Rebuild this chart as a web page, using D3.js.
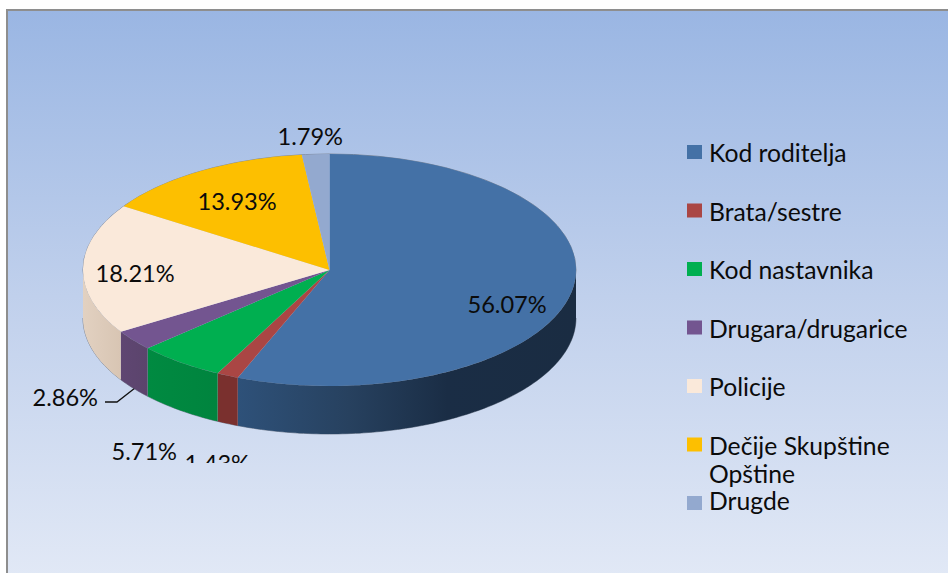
<!DOCTYPE html>
<html><head><meta charset="utf-8">
<script src="https://cdn.jsdelivr.net/npm/d3@7/dist/d3.min.js"></script>
<style>html,body{margin:0;padding:0;background:#fff}svg{display:block}text{font-family:Lato,"Open Sans",sans-serif;fill:#0b0b0b}</style>
</head><body><div id="chart"></div>
<script>
const categories = ["Kod roditelja","Brata/sestre","Kod nastavnika","Drugara/drugarice","Policije","Dečije Skupštine Opštine","Drugde"];
const values = [56.07,1.43,5.71,2.86,18.21,13.93,1.79];
const valueLabels = ["56.07%","1.43%","5.71%","2.86%","18.21%","13.93%","1.79%"];
const topColors = ["#4471a6","#aa4644","#00af50","#735590","#fae9da","#fdbf00","#93a9cf"];
const wallColors = [
  [["0","#2e5179"],["0.33","#27415f"],["0.62","#1a2d45"],["1","#1a2c42"]],
  [["0","#7a302e"],["1","#7a302e"]],
  [["0","#008a41"],["1","#00843e"]],
  [["0","#5f4672"],["1","#5b446c"]],
  [["0","#e2d1c1"],["1","#d8c5b3"]],
  [["0","#bb8e00"],["1","#bb8e00"]],
  [["0","#6d7f9c"],["1","#6d7f9c"]]
];
const legendLines = [["Kod roditelja"],["Brata/sestre"],["Kod nastavnika"],["Drugara/drugarice"],["Policije"],["Dečije Skupštine","Opštine"],["Drugde"]];
const labelSpots = [[467.5,313],[184.5,472],[111.5,460],[32.5,406],[95.5,282],[197.5,210],[277.5,145]];
const W=948,H=573, cx=329.5, cy=270, rx=246.5, ry=116, depth=48;
const FS=23.6, LFS=24.7;
const svg=d3.select("#chart").append("svg").attr("width",W).attr("height",H);
const defs=svg.append("defs");
const bg=defs.append("linearGradient").attr("id","bg").attr("x1",0).attr("y1",0).attr("x2",0).attr("y2",1);
[["0","#9ab6e3"],["0.5","#c0d0ec"],["1","#e2e9f6"]].forEach(s=>bg.append("stop").attr("offset",s[0]).attr("stop-color",s[1]));
svg.append("rect").attr("x",7).attr("y",10).attr("width",W).attr("height",H).attr("fill","url(#bg)").attr("stroke","#8e8e8e").attr("stroke-width",2);
defs.append("clipPath").attr("id","lab").append("rect").attr("x",0).attr("y",0).attr("width",W).attr("height",463);

const arcs=d3.pie().sort(null).value(d=>d)(values);
const X=d3.scaleLinear().domain([-1,1]).range([cx-rx,cx+rx]);
const Y=d3.scaleLinear().domain([-1,1]).range([cy-ry,cy+ry]);
const pt=(a,dy=0)=>[X(Math.sin(a)),Y(-Math.cos(a))+dy];

// silhouette hairline
const g=svg.append("g");
const sil=d3.line()(d3.range(Math.PI/2,Math.PI*1.5+.001,Math.PI/90).map(a=>pt(a,depth)));
g.append("path").attr("d",sil).attr("fill","none").attr("stroke","#7f8a9c").attr("stroke-width",1);
g.append("ellipse").attr("cx",cx).attr("cy",cy).attr("rx",rx).attr("ry",ry).attr("fill","none").attr("stroke","#7f8a9c").attr("stroke-width",1);

// leader for 2.86%
svg.append("polyline").attr("points","105,402 117,402 135,388").attr("fill","none").attr("stroke","#111").attr("stroke-width",1.3);

// walls
const wallLayer=svg.append("g");
arcs.forEach((d,i)=>{
  const a0=Math.max(d.startAngle,Math.PI/2), a1=Math.min(d.endAngle,Math.PI*1.5);
  if(a1<=a0) return;
  const steps=d3.range(a0,a1,Math.PI/180).concat([a1]);
  const xs=steps.map(a=>pt(a)[0]);
  const gr=defs.append("linearGradient").attr("id","w"+i).attr("gradientUnits","userSpaceOnUse")
    .attr("x1",d3.min(xs)).attr("x2",d3.max(xs)).attr("y1",0).attr("y2",0);
  wallColors[i].forEach(s=>gr.append("stop").attr("offset",s[0]).attr("stop-color",s[1]));
  const pts=steps.map(a=>pt(a)).concat(steps.slice().reverse().map(a=>pt(a,depth)));
  wallLayer.append("path").attr("d",d3.line()(pts)+"Z").attr("fill","url(#w"+i+")");
});

// top face
const arc=d3.arc().innerRadius(0).outerRadius(rx);
const topFace=svg.append("g").attr("transform",`translate(${cx},${cy}) scale(1,${ry/rx})`);
topFace.selectAll("path").data(arcs).join("path").attr("d",arc).attr("fill",(d,i)=>topColors[i]);

// data labels
svg.append("g").attr("clip-path","url(#lab)").selectAll("text").data(valueLabels).join("text")
  .attr("x",(d,i)=>labelSpots[i][0]).attr("y",(d,i)=>labelSpots[i][1]).attr("font-size",FS).text(d=>d);

// legend
const swatchY=d3.scaleLinear().domain([0,6]).range([145,496]);
const lg=svg.append("g");
categories.forEach((c,i)=>{
  lg.append("rect").attr("x",687).attr("y",swatchY(i)).attr("width",15).attr("height",14).attr("fill",topColors[i]);
  const base=swatchY(i)+(i===6?14:17);
  legendLines[i].forEach((t,k)=>lg.append("text").attr("x",709).attr("y",base+k*28).attr("font-size",LFS).text(t));
});
</script></body></html>
